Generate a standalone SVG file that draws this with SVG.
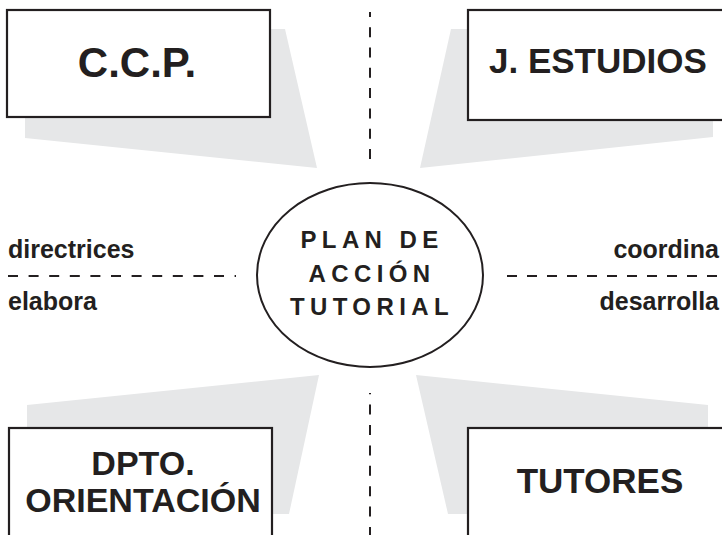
<svg xmlns="http://www.w3.org/2000/svg" width="722" height="535" viewBox="0 0 722 535">
  <style>
    .shadow { fill: #e6e7e8; stroke: none; }
    .box { fill: #ffffff; stroke: #231f20; stroke-width: 2.2; }
    .big { font-family: "Liberation Sans", Arial, Helvetica, sans-serif; font-weight: bold; fill: #231f20; }
    .lbl { font-family: "Liberation Sans", Arial, Helvetica, sans-serif; font-weight: bold; font-size: 25px; fill: #231f20; }
    .dash { stroke: #231f20; stroke-width: 2; fill: none; }
    .center { font-family: "Liberation Sans", Arial, Helvetica, sans-serif; font-weight: bold; font-size: 24px; letter-spacing: 5.4px; fill: #231f20; text-anchor: middle; }
  </style>
  <rect width="722" height="535" fill="#ffffff"/>

  <g id="connectors">
    <line class="dash" x1="370" y1="159" x2="370" y2="12" stroke-dasharray="10 10.3"/>
    <line class="dash" x1="370" y1="537" x2="370" y2="393" stroke-dasharray="10 10.4"/>
    <line class="dash" x1="8" y1="276" x2="236" y2="276" stroke-dasharray="10 10.6"/>
    <line class="dash" x1="507" y1="276" x2="722" y2="276" stroke-dasharray="10 10"/>
  </g>

  <g id="ccp">
    <polygon class="shadow" points="25,29 285,29 317,168 25,138"/>
    <rect class="box" x="7" y="10" width="263" height="107"/>
    <text class="big" x="137" y="77" font-size="42" text-anchor="middle">C.C.P.</text>
  </g>

  <g id="jestudios">
    <polygon class="shadow" points="451,29 713,29 713,137 420,168"/>
    <rect class="box" x="468" y="10" width="270" height="110"/>
    <text class="big" x="489" y="73" font-size="35">J. ESTUDIOS</text>
  </g>

  <g id="dpto">
    <polygon class="shadow" points="27,405 319,375 289,514 27,514"/>
    <rect class="box" x="9" y="428" width="263" height="120"/>
    <text class="big" x="143" y="475" font-size="34" text-anchor="middle">DPTO.</text>
    <text class="big" x="143" y="512" font-size="34" text-anchor="middle">ORIENTACIÓN</text>
  </g>

  <g id="tutores">
    <polygon class="shadow" points="416,375 708,405 708,514 448,514"/>
    <rect class="box" x="468" y="428" width="270" height="120"/>
    <text class="big" x="600" y="493" font-size="35" text-anchor="middle">TUTORES</text>
  </g>

  <g id="plan">
    <ellipse cx="370" cy="275" rx="113" ry="92" fill="#ffffff" stroke="#231f20" stroke-width="2"/>
    <text class="center" x="372" y="248">PLAN DE</text>
    <text class="center" x="372" y="282">ACCIÓN</text>
    <text class="center" x="372" y="315">TUTORIAL</text>
  </g>

  <g id="labels">
    <text class="lbl" x="8" y="258">directrices</text>
    <text class="lbl" x="8" y="310">elabora</text>
    <text class="lbl" x="719" y="258" text-anchor="end">coordina</text>
    <text class="lbl" x="719" y="310" text-anchor="end">desarrolla</text>
  </g>
</svg>
